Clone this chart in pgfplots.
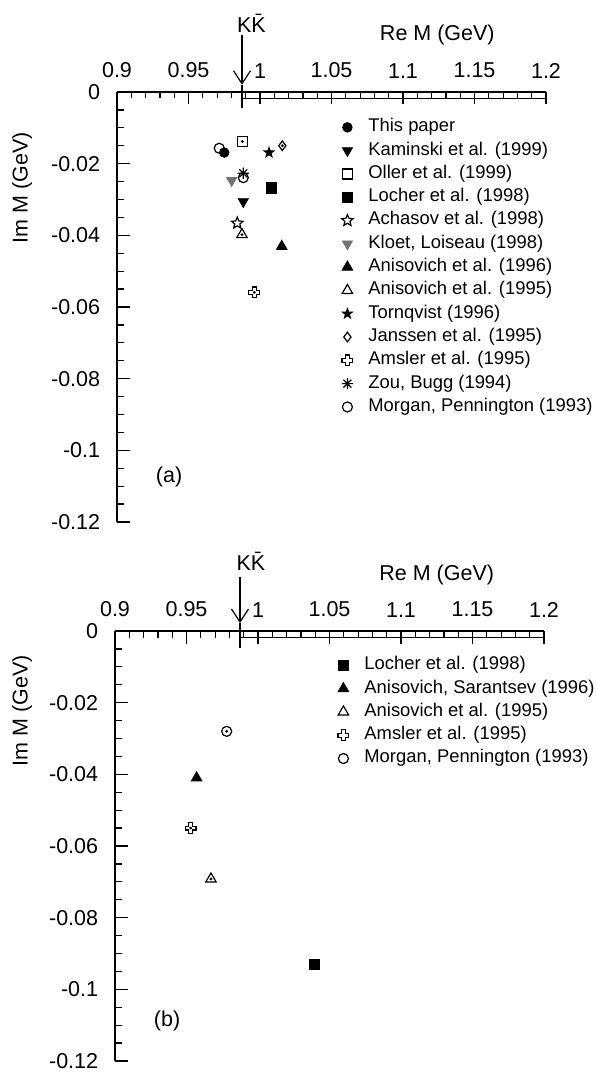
\documentclass[border=0pt]{standalone}
\usepackage{fontspec}
\setmainfont{Liberation Sans}
\usepackage{pgfplots}
\pgfplotsset{compat=1.18}
\usetikzlibrary{arrows.meta}

\newcommand{\starpath}[1]{%
  \pgfpathmoveto{\pgfpointpolar{90}{\pgfplotmarksize}}%
  \pgfpathlineto{\pgfpointpolar{126}{#1\pgfplotmarksize}}%
  \pgfpathlineto{\pgfpointpolar{162}{\pgfplotmarksize}}%
  \pgfpathlineto{\pgfpointpolar{198}{#1\pgfplotmarksize}}%
  \pgfpathlineto{\pgfpointpolar{234}{\pgfplotmarksize}}%
  \pgfpathlineto{\pgfpointpolar{270}{#1\pgfplotmarksize}}%
  \pgfpathlineto{\pgfpointpolar{306}{\pgfplotmarksize}}%
  \pgfpathlineto{\pgfpointpolar{342}{#1\pgfplotmarksize}}%
  \pgfpathlineto{\pgfpointpolar{18}{\pgfplotmarksize}}%
  \pgfpathlineto{\pgfpointpolar{54}{#1\pgfplotmarksize}}%
  \pgfpathclose}
\pgfdeclareplotmark{ostar}{\starpath{0.45}\pgfusepathqstroke}
\pgfdeclareplotmark{fstar}{\starpath{0.4}\pgfusepathqfillstroke}
\pgfdeclareplotmark{ocross}{%
 \pgfpathmoveto{\pgfpoint{0.35\pgfplotmarksize}{\pgfplotmarksize}}%
 \pgfpathlineto{\pgfpoint{0.35\pgfplotmarksize}{0.35\pgfplotmarksize}}%
 \pgfpathlineto{\pgfpoint{\pgfplotmarksize}{0.35\pgfplotmarksize}}%
 \pgfpathlineto{\pgfpoint{\pgfplotmarksize}{-0.35\pgfplotmarksize}}%
 \pgfpathlineto{\pgfpoint{0.35\pgfplotmarksize}{-0.35\pgfplotmarksize}}%
 \pgfpathlineto{\pgfpoint{0.35\pgfplotmarksize}{-\pgfplotmarksize}}%
 \pgfpathlineto{\pgfpoint{-0.35\pgfplotmarksize}{-\pgfplotmarksize}}%
 \pgfpathlineto{\pgfpoint{-0.35\pgfplotmarksize}{-0.35\pgfplotmarksize}}%
 \pgfpathlineto{\pgfpoint{-\pgfplotmarksize}{-0.35\pgfplotmarksize}}%
 \pgfpathlineto{\pgfpoint{-\pgfplotmarksize}{0.35\pgfplotmarksize}}%
 \pgfpathlineto{\pgfpoint{-0.35\pgfplotmarksize}{0.35\pgfplotmarksize}}%
 \pgfpathlineto{\pgfpoint{-0.35\pgfplotmarksize}{\pgfplotmarksize}}%
 \pgfpathclose\pgfusepathqstroke}
\pgfdeclareplotmark{ast8}{%
 \pgfpathmoveto{\pgfpoint{0pt}{\pgfplotmarksize}}\pgfpathlineto{\pgfpoint{0pt}{-\pgfplotmarksize}}%
 \pgfpathmoveto{\pgfpoint{\pgfplotmarksize}{0pt}}\pgfpathlineto{\pgfpoint{-\pgfplotmarksize}{0pt}}%
 \pgfpathmoveto{\pgfpoint{0.707\pgfplotmarksize}{0.707\pgfplotmarksize}}\pgfpathlineto{\pgfpoint{-0.707\pgfplotmarksize}{-0.707\pgfplotmarksize}}%
 \pgfpathmoveto{\pgfpoint{-0.707\pgfplotmarksize}{0.707\pgfplotmarksize}}\pgfpathlineto{\pgfpoint{0.707\pgfplotmarksize}{-0.707\pgfplotmarksize}}%
 \pgfusepathqstroke}

\newcommand{\bigf}{\fontsize{10.75}{13}\selectfont}

\pgfplotsset{
  panel/.style={
    scale only axis, width=214.5pt, height=215pt,
    xmin=0.9, xmax=1.2, ymin=-0.12, ymax=0,
    axis x line*=top, axis y line*=left,
    axis line style={line width=0.8pt},
    tick align=inside,
    xtick={0.9,0.95,1,1.05,1.1,1.15,1.2},
    ytick={-0.12,-0.1,-0.08,-0.06,-0.04,-0.02,0},
    minor x tick num=4, minor y tick num=3,
    major tick length=6.25pt, minor tick length=3.25pt,
    every tick/.style={black, line width=0.6pt},
    scaled x ticks=false, scaled y ticks=false,
    xticklabel style={/pgf/number format/fixed, /pgf/number format/precision=2},
    yticklabel style={/pgf/number format/fixed, /pgf/number format/precision=2},
    tick label style={font=\bigf},
    xticklabel shift=3.4pt, yticklabel shift=4.9pt,
    /pgf/number format/assume math mode=true,
    clip=false,
    legend cell align=left,
    legend style={draw=none, fill=none, inner sep=0pt, column sep=0pt,
      font=\fontsize{9.2}{10}\selectfont, row sep=3.65pt,
      nodes={inner sep=0pt, text height=6.2pt, text depth=1.8pt}},
    legend image code/.code={\path[draw=none,fill=none] (0pt,-1pt) rectangle (14.75pt,1pt);
      \draw[mark repeat=2,mark phase=2,##1,only marks] plot coordinates {(0pt,0pt) (4.25pt,0pt) (8.5pt,0pt)};},
    every axis plot/.append style={only marks, mark options={solid, line width=0.6pt}},
    dot/.style={black, mark=*, mark size=0.35pt, forget plot},
  }
}

\begin{document}
\begin{tikzpicture}
\useasboundingbox (0,0) rectangle (297.5pt,-537pt);

% ---------------- panel (a)
\begin{axis}[panel, at={(58.5pt,-46pt)}, anchor=north west,
  legend style={at={(axis cs:1.0549,-0.00752)}, anchor=north west}]
\addplot[black, mark=*, mark size=2.3pt] coordinates {(0.9750,-0.0169)};
\addlegendentry{This paper}
\addplot[black, mark=triangle*, mark size=2.9pt, mark options={rotate=180}] coordinates {(0.9883,-0.0306)};
\addlegendentry{Kaminski et al. (1999)}
\addplot[black, mark=square, mark size=2.5pt] coordinates {(0.9876,-0.0138)};
\addlegendentry{Oller et al. (1999)}
\addplot[black, mark=square*, mark size=2.5pt] coordinates {(1.0082,-0.0268)};
\addlegendentry{Locher et al. (1998)}
\addplot[black, mark=ostar, mark size=3pt] coordinates {(0.9841,-0.0366)};
\addlegendentry{Achasov et al. (1998)}
\addplot[black!55, mark=triangle*, mark size=2.9pt, mark options={rotate=180}] coordinates {(0.9802,-0.0247)};
\addlegendentry{Kloet, Loiseau (1998)}
\addplot[black, mark=triangle*, mark size=2.9pt] coordinates {(1.0152,-0.0431)};
\addlegendentry{Anisovich et al. (1996)}
\addplot[black, mark=triangle, mark size=3pt] coordinates {(0.9874,-0.0398)};
\addlegendentry{Anisovich et al. (1995)}
\addplot[black, mark=fstar, mark size=2.4pt] coordinates {(1.0063,-0.0169)};
\addlegendentry{Tornqvist (1996)}
\addplot[black, mark=diamond, mark size=2.4pt] coordinates {(1.0156,-0.0150)};
\addlegendentry{Janssen et al. (1995)}
\addplot[black, mark=ocross, mark size=2.7pt] coordinates {(0.9960,-0.0559)};
\addlegendentry{Amsler et al. (1995)}
\addplot[black, mark=ast8, mark size=2.8pt] coordinates {(0.9883,-0.0227)};
\addlegendentry{Zou, Bugg (1994)}
\addplot[black, mark=o, mark size=2.5pt] coordinates {(0.9715,-0.0157) (0.9883,-0.0239)};
\addlegendentry{Morgan, Pennington (1993)}
\addplot[dot] coordinates {(0.9876,-0.0138) (1.0156,-0.0150) (0.9960,-0.0559) (0.9874,-0.0398)};
\addplot[black, line width=0.6pt, no marks, sharp plot, forget plot] coordinates {(0.9874,-0.0018) (1.2,-0.0018)};
\draw[line width=0.6pt, -{Straight Barb[length=6.5pt,width=8.5pt]}] (axis cs:0.9874,0.0159) -- (axis cs:0.9874,0.0020);
\draw[line width=0.6pt] (axis cs:0.9874,0.0020) -- (axis cs:0.9874,-0.0045);
\node[anchor=base, font=\bigf, inner sep=0pt] at (axis cs:0.994,0.0167) {K\=K};
\node[anchor=base, font=\bigf, inner sep=0pt] at (axis cs:1.124,0.0145) {Re M (GeV)};
\node[font=\bigf, inner sep=0pt] at (axis cs:0.9364,-0.1075) {(a)};
\end{axis}
\node[rotate=90, font=\bigf, inner sep=0pt] at (11pt,-94pt) {Im M (GeV)};

% ---------------- panel (b)
\begin{axis}[panel, at={(57.5pt,-315.5pt)}, anchor=north west,
  legend style={at={(axis cs:1.0535,-0.00724)}, anchor=north west}]
\addplot[black, mark=square*, mark size=2.5pt] coordinates {(1.0394,-0.0930)};
\addlegendentry{Locher et al. (1998)}
\addplot[black, mark=triangle*, mark size=2.9pt] coordinates {(0.9571,-0.0410)};
\addlegendentry{Anisovich, Sarantsev (1996)}
\addplot[black, mark=triangle, mark size=3pt] coordinates {(0.9671,-0.0692)};
\addlegendentry{Anisovich et al. (1995)}
\addplot[black, mark=ocross, mark size=2.7pt] coordinates {(0.9529,-0.0550)};
\addlegendentry{Amsler et al. (1995)}
\addplot[black, mark=o, mark size=2.5pt] coordinates {(0.9781,-0.0280)};
\addlegendentry{Morgan, Pennington (1993)}
\addplot[dot] coordinates {(0.9671,-0.0692) (0.9529,-0.0550) (0.9781,-0.0280)};
\addplot[black, line width=0.6pt, no marks, sharp plot, forget plot] coordinates {(0.9874,-0.0018) (1.2,-0.0018)};
\draw[line width=0.6pt, -{Straight Barb[length=6.5pt,width=8.5pt]}] (axis cs:0.9874,0.0150) -- (axis cs:0.9874,0.0022);
\draw[line width=0.6pt] (axis cs:0.9874,0.0022) -- (axis cs:0.9874,-0.0047);
\node[anchor=base, font=\bigf, inner sep=0pt] at (axis cs:0.995,0.0170) {K\=K};
\node[anchor=base, font=\bigf, inner sep=0pt] at (axis cs:1.125,0.0142) {Re M (GeV)};
\node[font=\bigf, inner sep=0pt] at (axis cs:0.9364,-0.1089) {(b)};
\end{axis}
\node[rotate=90, font=\bigf, inner sep=0pt] at (11pt,-355.5pt) {Im M (GeV)};
\end{tikzpicture}
\end{document}
